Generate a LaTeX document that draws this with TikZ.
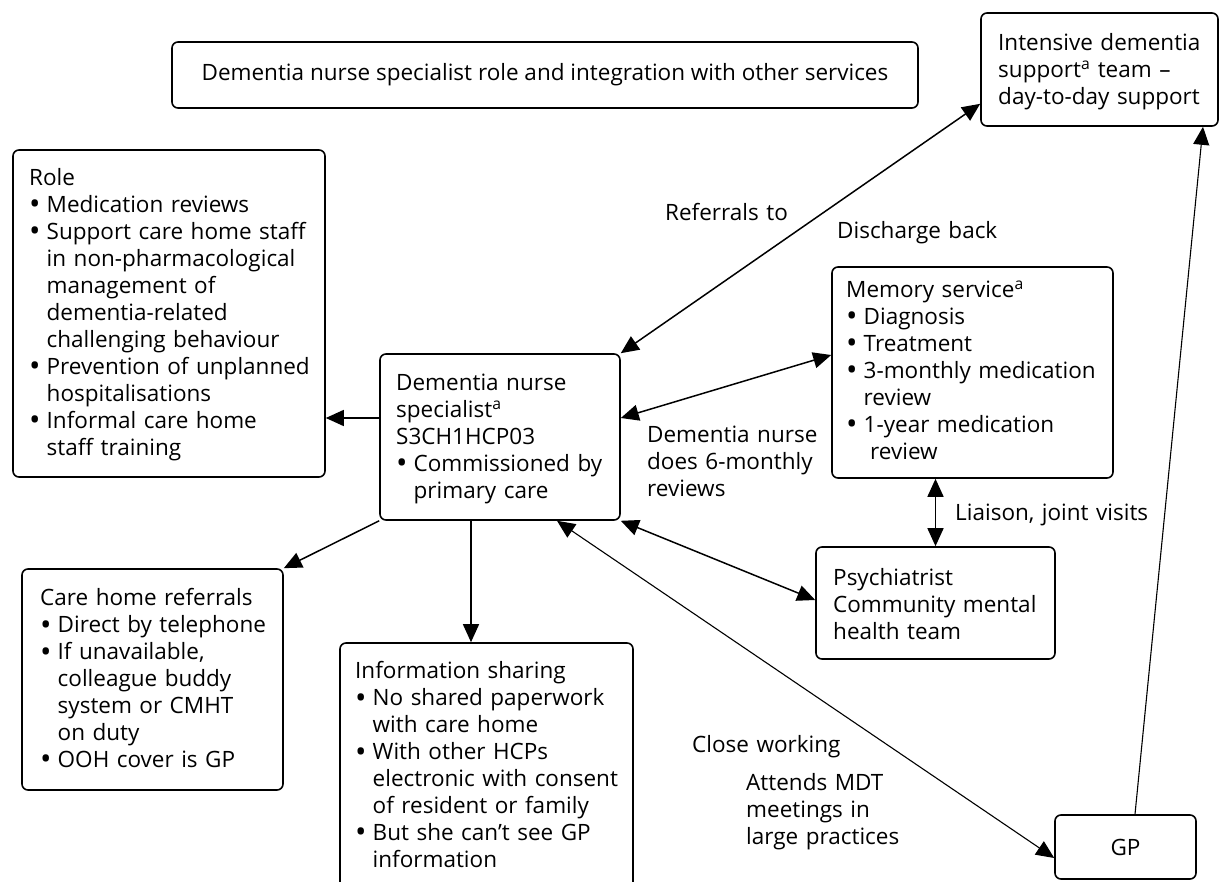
\documentclass[tikz,border=0pt]{standalone}
\usepackage{fontspec}
\setmainfont{Open Sans}
\usetikzlibrary{arrows.meta}
\newcommand\fs{\fontsize{22.5}{27}\selectfont}
\newcommand\bitem{\makebox[17.5pt][l]{\smash{\raisebox{-2.8pt}{\scalebox{1.35}{•}}}}}
\newcommand\bcont{\hspace*{17.5pt}}
\begin{document}
\begin{tikzpicture}[x=1pt,y=-1pt,
  box/.style={draw, line width=1.6pt, rounded corners=6pt, inner sep=0pt},
  txt/.style={anchor=north west, inner sep=0pt, text width=420pt, align=left, font=\fs},
  arr/.style={line width=1.5pt, -{Triangle[length=18pt,width=16pt]}},
  darr/.style={line width=1.5pt, {Triangle[length=18pt,width=16pt]}-{Triangle[length=18pt,width=16pt]}},
  thinline/.style={line width=1.1pt}]
\useasboundingbox (0,0) rectangle (1219,882);
\clip (0,0) rectangle (1219,882);
\fill[white] (0,0) rectangle (1219,882);

% boxes
\node[box, minimum width=746pt, minimum height=66pt, font=\fs] (title) at (545,75)
  {Dementia nurse specialist role and integration with other services};

\node[box, minimum width=237pt, minimum height=113pt] (intensive) at (1099.5,69.5) {};
\node[txt] (intensive-t) at (998,31.1)
  {\strut Intensive dementia\\support\textsuperscript{a} team –\\day-to-day support\strut};

\node[box, minimum width=312pt, minimum height=327pt] (role) at (169,313.5) {};
\node[txt] (role-t) at (29,166.1)
  {\strut Role\\\bitem Medication reviews\\\bitem Support care home staff\\\bcont in non-pharmacological\\\bcont management of\\\bcont dementia-related\\\bcont challenging behaviour\\\bitem Prevention of unplanned\\\bcont hospitalisations\\\bitem Informal care home\\\bcont staff training\strut};

\node[box, minimum width=240pt, minimum height=166pt] (dns) at (500,437) {};
\node[txt] (dns-t) at (396,371.1)
  {\strut Dementia nurse\\specialist\textsuperscript{a}\\S3CH1HCP03\\\bitem Commissioned by\\\bcont primary care\strut};

\node[box, minimum width=281pt, minimum height=211pt] (memory) at (972.5,372.5) {};
\node[txt] (memory-t) at (846,278.1)
  {\strut Memory service\textsuperscript{a}\\\bitem Diagnosis\\\bitem Treatment\\\bitem 3-monthly medication\\\bcont review\\\bitem 1-year medication\\\hspace*{24pt}review\strut};

\node[box, minimum width=239pt, minimum height=112pt] (psych) at (935.5,603) {};
\node[txt] (psych-t) at (833,566.1)
  {\strut Psychiatrist\\Community mental\\health team\strut};

\node[box, minimum width=261pt, minimum height=221pt] (care) at (152.5,679.5) {};
\node[txt] (care-t) at (40,586.1)
  {\strut Care home referrals\\\bitem Direct by telephone\\\bitem If unavailable,\\\bcont colleague buddy\\\bcont system or CMHT\\\bcont on duty\\\bitem OOH cover is GP\strut};

\node[box, minimum width=293pt, minimum height=257pt] (info) at (486.5,771.5) {};
\node[txt] (info-t) at (355,659.1)
  {\strut Information sharing\\\bitem No shared paperwork\\\bcont with care home\\\bitem With other HCPs\\\bcont electronic with consent\\\bcont of resident or family\\\bitem But she can’t see GP\\\bcont information\strut};

\node[box, minimum width=141pt, minimum height=64pt, font=\fs] (gp) at (1125.5,847) {GP};

% labels
\node[txt] (l-ref) at (665,201.1) {\strut Referrals to};
\node[txt] (l-dis) at (837,219.1) {\strut Discharge back};
\node[txt] (l-six) at (647,423.1) {\strut Dementia nurse\\does 6-monthly\\reviews\strut};
\node[txt] (l-lia) at (955,501.1) {\strut Liaison, joint visits};
\node[txt] (l-close) at (692,733.1) {\strut Close working};
\node[txt] (l-mdt) at (746,771.1) {\strut Attends MDT\\meetings in\\large practices\strut};

% connectors
\draw[darr] (dns.north east) -- ([yshift=23pt]intensive.south west);
\draw[darr] ([yshift=19pt]dns.east) -- ([yshift=17.5pt]memory.west);
\draw[darr] (dns.south east) -- ([yshift=3pt]psych.west);
\draw[darr] (memory.south -| psych.north) -- (psych.north);
\draw[arr] ([yshift=19pt]dns.west) -- ([yshift=-104.5pt]role.east);
\draw[arr] (dns.south west) -- (care.north east);
\draw[arr] ([xshift=-29pt]dns.south) -- ([xshift=-15.5pt]info.north);
\draw[darr, thinline] ([xshift=57pt]dns.south) -- ([yshift=-11pt]gp.west);
\draw[arr, thinline] ([xshift=9.5pt]gp.north) -- ([xshift=103.5pt]intensive.south);
\end{tikzpicture}
\end{document}
